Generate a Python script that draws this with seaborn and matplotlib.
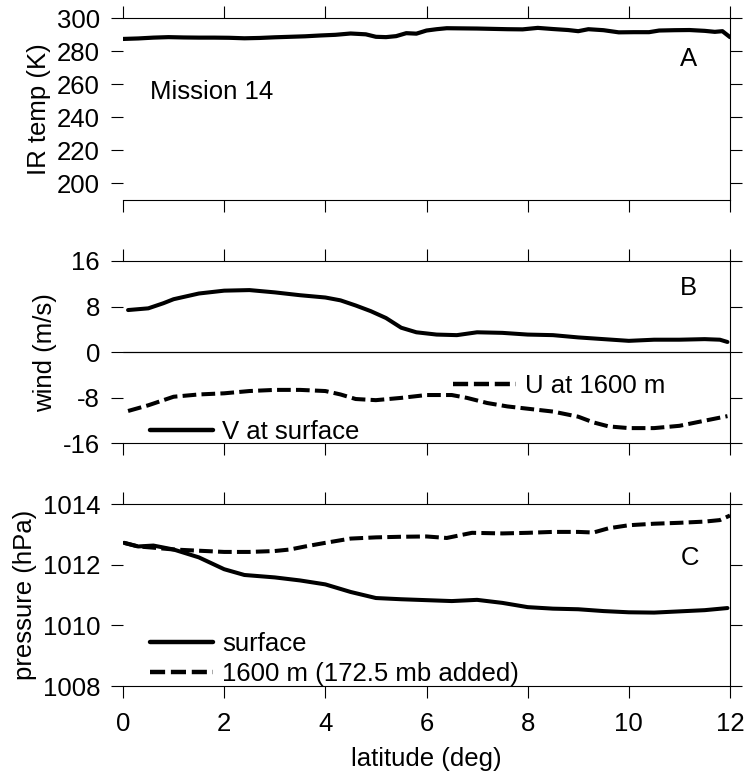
import numpy as np
import pandas as pd
import matplotlib
matplotlib.use("Agg")
import matplotlib.pyplot as plt
from matplotlib.lines import Line2D
import seaborn as sns

# ---------------- data ----------------
lat_ir = [0.0, 0.3, 0.6, 0.9, 1.2, 1.5, 1.8, 2.1, 2.4, 2.7, 3.0, 3.3, 3.6, 3.9, 4.2, 4.5,
          4.8, 5.0, 5.2, 5.4, 5.6, 5.8, 6.0, 6.2, 6.4, 6.7, 7.0, 7.3, 7.6, 7.9, 8.2, 8.5,
          8.8, 9.0, 9.2, 9.5, 9.8, 10.1, 10.4, 10.6, 10.9, 11.2, 11.5, 11.7, 11.85, 12.0]
ir_temp = [287.5, 287.8, 288.3, 288.6, 288.4, 288.3, 288.3, 288.2, 287.9, 288.1, 288.5, 288.8,
           289.1, 289.6, 290.0, 290.8, 290.3, 288.8, 288.6, 289.2, 291.0, 290.7, 292.6, 293.4,
           294.0, 293.9, 293.8, 293.6, 293.4, 293.3, 294.2, 293.5, 292.9, 292.2, 293.4, 292.8,
           291.5, 291.6, 291.6, 292.6, 292.8, 292.9, 292.4, 291.8, 292.2, 288.6]

lat_v = [0.1, 0.5, 0.8, 1.0, 1.5, 2.0, 2.5, 3.0, 3.5, 4.0, 4.3, 4.6, 4.9, 5.2, 5.5, 5.8,
         6.2, 6.6, 7.0, 7.5, 8.0, 8.5, 9.0, 9.5, 10.0, 10.5, 11.0, 11.5, 11.8, 11.95]
v_surface = [7.4, 7.7, 8.6, 9.3, 10.3, 10.8, 10.9, 10.5, 10.0, 9.6, 9.1, 8.2, 7.2, 6.0, 4.3, 3.5,
             3.1, 3.0, 3.5, 3.4, 3.1, 3.0, 2.6, 2.3, 2.0, 2.2, 2.2, 2.3, 2.2, 1.8]

lat_u = [0.1, 0.5, 1.0, 1.5, 2.0, 2.5, 3.0, 3.5, 4.0, 4.3, 4.6, 5.0, 5.5, 6.0, 6.5, 6.8,
         7.2, 7.6, 8.0, 8.5, 9.0, 9.3, 9.6, 10.0, 10.5, 11.0, 11.5, 11.95]
u_1600 = [-10.3, -9.3, -7.8, -7.4, -7.2, -6.8, -6.6, -6.6, -6.8, -7.4, -8.2, -8.4, -8.0, -7.5,
          -7.5, -8.0, -8.9, -9.5, -9.9, -10.4, -11.3, -12.3, -13.0, -13.3, -13.3, -12.9, -12.0, -11.2]

lat_ps = [0.02, 0.3, 0.6, 1.0, 1.5, 2.0, 2.4, 3.0, 3.5, 4.0, 4.5, 5.0, 5.5, 6.0, 6.5, 7.0,
          7.5, 8.0, 8.5, 9.0, 9.5, 10.0, 10.5, 11.0, 11.5, 11.95]
p_surface = [1012.72, 1012.6, 1012.63, 1012.5, 1012.24, 1011.85, 1011.66, 1011.58, 1011.48,
             1011.35, 1011.1, 1010.9, 1010.86, 1010.83, 1010.8, 1010.84, 1010.74, 1010.6,
             1010.55, 1010.53, 1010.47, 1010.43, 1010.42, 1010.46, 1010.5, 1010.57]

lat_p16 = [0.02, 0.3, 0.6, 1.0, 1.5, 2.0, 2.5, 3.0, 3.3, 3.6, 4.0, 4.5, 5.0, 5.5, 6.0, 6.4,
           6.9, 7.5, 8.0, 8.5, 9.0, 9.3, 9.6, 10.0, 10.5, 11.0, 11.5, 11.8, 12.0]
p_1600 = [1012.72, 1012.6, 1012.56, 1012.5, 1012.46, 1012.42, 1012.42, 1012.45, 1012.5, 1012.6,
          1012.72, 1012.86, 1012.9, 1012.92, 1012.93, 1012.88, 1013.05, 1013.03, 1013.05,
          1013.08, 1013.08, 1013.06, 1013.2, 1013.3, 1013.35, 1013.38, 1013.42, 1013.47, 1013.62]

x_ticks = [0, 2, 4, 6, 8, 10, 12]
ir_ticks = [200, 220, 240, 260, 280, 300]
wind_ticks = [-16, -8, 0, 8, 16]
p_ticks = [1008, 1010, 1012, 1014]

# ---------------- style ----------------
sns.set_style("ticks")
plt.rcParams['font.family'] = ['Liberation Sans', 'DejaVu Sans']
plt.rcParams['font.size'] = 18.5
plt.rcParams['axes.unicode_minus'] = False
for k in ['text.color', 'axes.labelcolor', 'xtick.color', 'ytick.color', 'axes.edgecolor']:
    plt.rcParams[k] = 'black'

W, H = 747, 771
fig = plt.figure(figsize=(W / 100, H / 100), dpi=100)
left, right = 123 / W, 730 / W
wid = right - left


def make_ax(top_px, bot_px):
    return fig.add_axes([left, 1 - bot_px / H, wid, (bot_px - top_px) / H])


axA = make_ax(18.3, 200)
axB = make_ax(261, 443.5)
axC = make_ax(504, 686)

dash = (0, (3.4, 1.3))
lw = 2.9

dfA = pd.DataFrame({"lat": lat_ir, "ir": ir_temp})
sns.lineplot(data=dfA, x="lat", y="ir", ax=axA, color="black", lw=3.0)

dfV = pd.DataFrame({"lat": lat_v, "v": v_surface})
dfU = pd.DataFrame({"lat": lat_u, "u": u_1600})
axB.axhline(0, color="black", lw=0.9, zorder=1)
sns.lineplot(data=dfV, x="lat", y="v", ax=axB, color="black", lw=lw)
sns.lineplot(data=dfU, x="lat", y="u", ax=axB, color="black", lw=lw, linestyle=dash)

dfPS = pd.DataFrame({"lat": lat_ps, "p": p_surface})
dfP16 = pd.DataFrame({"lat": lat_p16, "p": p_1600})
sns.lineplot(data=dfPS, x="lat", y="p", ax=axC, color="black", lw=lw)
sns.lineplot(data=dfP16, x="lat", y="p", ax=axC, color="black", lw=lw, linestyle=dash)

for ax, yt, ylim, ylab in [(axA, ir_ticks, (190, 300), "IR temp (K)"),
                           (axB, wind_ticks, (-16, 16), "wind (m/s)"),
                           (axC, p_ticks, (1008, 1014), "pressure (hPa)")]:
    ax.set_xlim(0, 12)
    ax.set_ylim(*ylim)
    ax.set_xticks(x_ticks)
    ax.set_yticks(yt)
    ax.set_ylabel(ylab, labelpad=4)
    ax.set_xlabel("")
    ax.spines["left"].set_visible(False)
    for s in ["top", "bottom", "right"]:
        ax.spines[s].set_visible(True)
        ax.spines[s].set_linewidth(0.8)
        ax.spines[s].set_color("black")
    ax.tick_params(axis="both", direction="out", length=8.5, width=0.8, color="black",
                   top=True, bottom=True, left=True, right=True,
                   labelright=False, labeltop=False, pad=8)
    ax.tick_params(axis="x", pad=10)

axA.tick_params(labelbottom=False)
axB.tick_params(labelbottom=False)
axC.set_xlabel("latitude (deg)", labelpad=8)

# panel texts
axA.text(0.0445, 0.594, "Mission 14", transform=axA.transAxes, va="center", ha="left")
axA.text(0.931, 0.776, "A", transform=axA.transAxes, va="center", ha="center")
axB.text(0.931, 0.852, "B", transform=axB.transAxes, va="center", ha="center")
axC.text(0.934, 0.706, "C", transform=axC.transAxes, va="center", ha="center")

# legends
solid_h = Line2D([], [], color="black", lw=3.2)
dash_h = Line2D([], [], color="black", lw=3.2, linestyle=dash)
common = dict(frameon=False, borderpad=0, borderaxespad=0, handlelength=2.45,
              handletextpad=0.36, loc="center left")

legV = axB.legend([solid_h], ["V at surface"], bbox_to_anchor=(0.0445, 0.065), **common)
axB.add_artist(legV)
axB.legend([dash_h], ["U at 1600 m"], bbox_to_anchor=(0.5437, 0.317), **common)

axC.legend([solid_h, dash_h], ["surface", "1600 m (172.5 mb added)"],
           bbox_to_anchor=(0.0445, 0.148), labelspacing=0.24, **common)

fig.savefig("out.png", dpi=100)
